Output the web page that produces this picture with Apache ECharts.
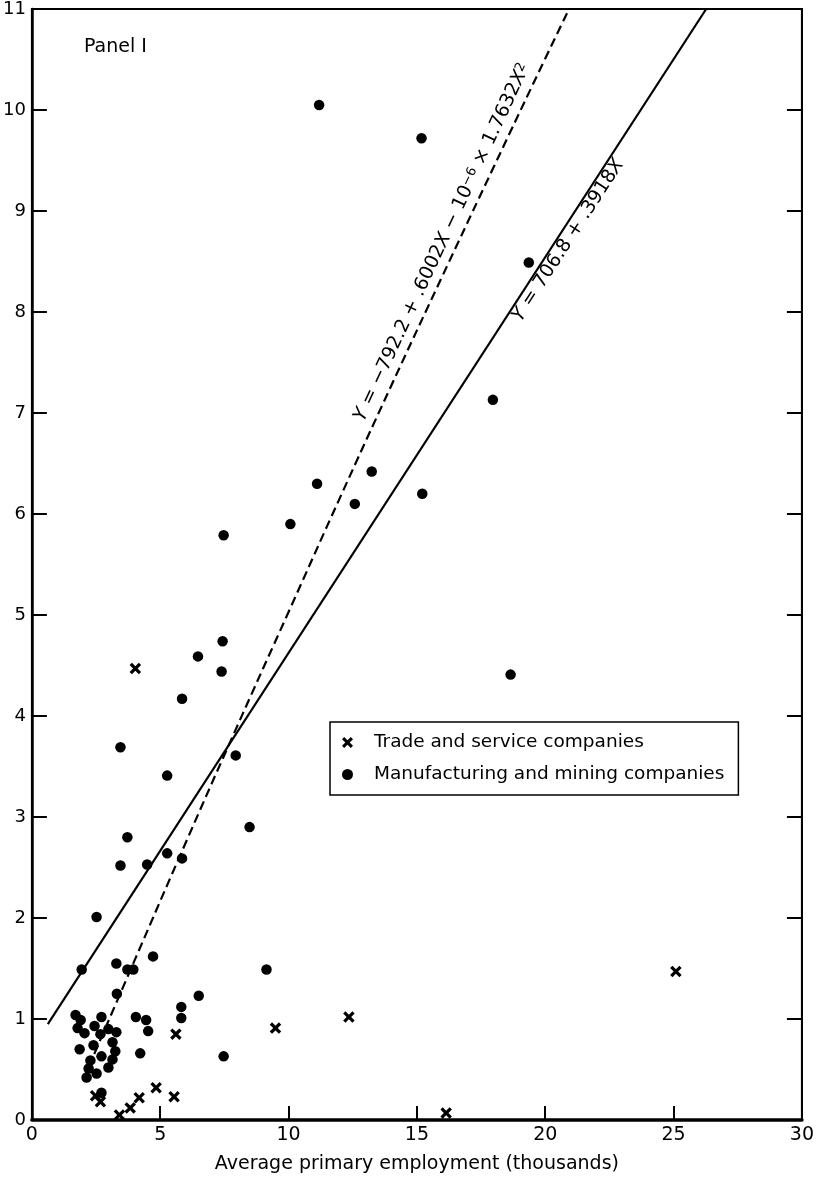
<!DOCTYPE html>
<html>
<head>
<meta charset="utf-8">
<script src="https://cdn.jsdelivr.net/npm/echarts@6/dist/echarts.min.js"></script>
<style>
html,body{margin:0;padding:0;background:#fff;}
#chart{width:817px;height:1179px;}
</style>
</head>
<body>
<div id="chart"></div>
<script>
// ---- data (x: average primary employment, thousands) ----
const tradeService = [
  [4.03,4.47],[5.61,0.85],[9.49,0.91],[12.35,1.02],[25.09,1.47],[16.14,0.07],
  [2.48,0.24],[2.67,0.18],[3.41,0.05],[3.83,0.12],[4.18,0.22],[4.84,0.32],[5.54,0.23]
];
const manufacturingMining = [
  [11.19,10.05],[15.18,9.72],[19.36,8.49],[17.96,7.13],[13.24,6.42],[11.11,6.30],
  [12.58,6.10],[15.21,6.20],[10.07,5.90],[7.47,5.79],[7.43,4.74],[6.47,4.59],
  [7.39,4.44],[5.85,4.17],[18.65,4.41],[3.45,3.69],[7.94,3.61],[5.27,3.41],
  [8.48,2.90],[3.72,2.80],[3.45,2.52],[4.49,2.53],[5.27,2.64],[5.85,2.59],
  [2.52,2.01],[1.94,1.49],[3.29,1.55],[3.72,1.49],[3.95,1.49],[4.72,1.62],
  [9.14,1.49],[3.31,1.25],[6.50,1.23],[5.82,1.12],[5.82,1.01],[4.05,1.02],
  [4.45,0.99],[1.70,1.04],[2.71,1.02],[1.90,0.99],[4.53,0.88],[7.47,0.63],
  [4.22,0.66],[1.78,0.91],[2.05,0.86],[2.44,0.93],[2.98,0.90],[3.29,0.87],
  [2.67,0.85],[1.86,0.70],[2.40,0.74],[3.14,0.77],[3.25,0.68],[2.71,0.63],
  [2.28,0.59],[3.14,0.60],[2.98,0.52],[2.21,0.51],[2.52,0.46],[2.13,0.42],
  [2.71,0.27]
];
// fitted lines (points along the printed regression equations)
const linearFit = [[0.62,0.95],[26.27,11.0]];
const quadraticFit = [
  [2.0,0.40],[4,1.58],[6,2.75],[8,3.90],[10,5.03],[12,6.16],
  [14,7.27],[16,8.36],[18,9.44],[20,10.51],[20.93,11.0]
];
const xTicks = [0,5,10,15,20,25,30];
const yTicks = [0,1,2,3,4,5,6,7,8,9,10,11];
const seriesNames = ['Trade and service companies','Manufacturing and mining companies'];
const xTitle = 'Average primary employment (thousands)';
const panelTitle = 'Panel I';
const quadLabel = '{i|Y} = −792.2 + .6002{i|X} − 10{sup|−6} × 1.7632{i|X}{sup|2}';
const linLabel = '{i|Y} = 706.8 + .3918{i|X}';

const FONT = 'DejaVu Sans';
const crossPath = 'path://M2,0 L5,3 L8,0 L10,2 L7,5 L10,8 L8,10 L5,7 L2,10 L0,8 L3,5 L0,2 Z';
const richStyles = {
  i:{fontFamily:FONT,fontSize:19,fontStyle:'italic',color:'#000'},
  sup:{fontFamily:FONT,fontSize:13,color:'#000',verticalAlign:'top',lineHeight:14}
};

const chart = echarts.init(document.getElementById('chart'), null, {renderer:'canvas'});
const option = {
  backgroundColor:'#fff',
  animation:false,
  title:{text:panelTitle,left:79,top:33,textStyle:{fontFamily:FONT,fontSize:19,fontWeight:'normal',color:'#000'}},
  grid:{left:30,right:12,top:6,bottom:49,show:true,borderColor:'#000',borderWidth:2,containLabel:false},
  legend:{
    data:seriesNames,orient:'vertical',left:330,top:722,
    borderColor:'#000',borderWidth:1.5,padding:[11,14,11,12],itemGap:13,
    itemWidth:11,itemHeight:11,
    textStyle:{fontFamily:FONT,fontSize:18.5,color:'#000',padding:[0,0,0,16]}
  },
  xAxis:{
    type:'value',min:0,max:30,interval:5,
    axisLine:{show:true,lineStyle:{color:'#000',width:3.5}},
    axisTick:{show:true,inside:true,length:14,lineStyle:{color:'#000',width:2}},
    axisLabel:{fontFamily:FONT,fontSize:19,color:'#000',margin:6,
      formatter:v=>xTicks.includes(v)?String(v):''},
    splitLine:{show:false},
    name:xTitle,nameLocation:'middle',nameGap:35,
    nameTextStyle:{fontFamily:FONT,fontSize:19,color:'#000'}
  },
  yAxis:[{
    type:'value',min:0,max:11,interval:1,position:'left',
    axisLine:{show:true,lineStyle:{color:'#000',width:2.5}},
    axisTick:{show:true,inside:true,length:15,lineStyle:{color:'#000',width:2}},
    axisLabel:{fontFamily:FONT,fontSize:18,color:'#000',margin:6,
      formatter:v=>yTicks.includes(v)?String(v):''},
    splitLine:{show:false}
  },{
    type:'value',min:0,max:11,interval:1,position:'right',
    axisLine:{show:true,lineStyle:{color:'#000',width:2}},
    axisTick:{show:true,inside:true,length:15,lineStyle:{color:'#000',width:2}},
    axisLabel:{show:false},splitLine:{show:false}
  }],
  series:[
    {name:seriesNames[0],type:'scatter',data:tradeService,symbol:crossPath,symbolSize:11.5,
     itemStyle:{color:'#000',opacity:1},z:5},
    {name:seriesNames[1],type:'scatter',data:manufacturingMining,symbol:'circle',symbolSize:10.5,
     itemStyle:{color:'#000',opacity:1},z:5},
    {name:'linear',type:'line',data:linearFit,showSymbol:false,symbol:'none',
     lineStyle:{color:'#000',width:2.2},z:3,
     markPoint:{symbol:'circle',symbolSize:0,silent:true,
       data:[{coord:[20.9,8.71],
         label:{show:true,position:'inside',rotate:57,formatter:linLabel,
           fontFamily:FONT,fontSize:19,color:'#000',rich:richStyles}}]}},
    {name:'quadratic',type:'line',data:quadraticFit,showSymbol:false,symbol:'none',smooth:true,
     lineStyle:{color:'#000',width:2.2,type:[9,5]},z:3,
     markPoint:{symbol:'circle',symbolSize:0,silent:true,
       data:[{coord:[15.99,8.69],
         label:{show:true,position:'inside',rotate:65,formatter:quadLabel,
           fontFamily:FONT,fontSize:19,color:'#000',rich:richStyles}}]}}
  ]
};
chart.setOption(option);
</script>
</body>
</html>
